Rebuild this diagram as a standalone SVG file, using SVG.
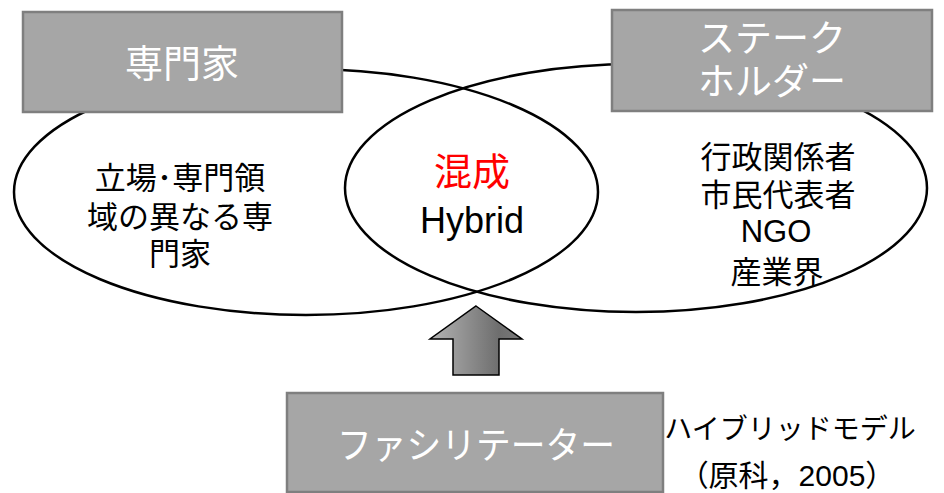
<svg xmlns="http://www.w3.org/2000/svg" width="944" height="493" viewBox="0 0 944 493">
<style>
.ell{fill:none;stroke:#000;stroke-width:2.5}
.box{fill:#a6a6a6;stroke:#7f7f7f;stroke-width:2.5}
.t{font-family:"Liberation Sans","Noto Sans CJK JP",sans-serif;text-anchor:middle}
.w{fill:#fff}
.k{fill:#000}
</style>
<defs>
<linearGradient id="ag" x1="0" y1="0" x2="1" y2="0">
<stop offset="0" stop-color="#b4b4b4"/>
<stop offset="0.75" stop-color="#6e6e6e"/>
<stop offset="1" stop-color="#7a7a7a"/>
</linearGradient>
</defs>
<g id="expert-circle">
<ellipse class="ell" cx="306" cy="192" rx="292" ry="123"/>
<text class="t k" font-size="31" x="180" y="189">立場･専門領</text>
<text class="t k" font-size="31" x="180" y="228">域の異なる専</text>
<text class="t k" font-size="31" x="180" y="265">門家</text>
</g>
<g id="stakeholder-circle">
<ellipse class="ell" cx="636" cy="188" rx="291" ry="124"/>
<text class="t k" font-size="31" x="778" y="168">行政関係者</text>
<text class="t k" font-size="31" x="778" y="206">市民代表者</text>
<text class="t k" font-size="31" x="776" y="242">NGO</text>
<text class="t k" font-size="31" x="777" y="283">産業界</text>
</g>
<g id="hybrid">
<text class="t" font-size="38" fill="#ff0000" x="472" y="185">混成</text>
<text class="t k" font-size="36" x="472" y="233">Hybrid</text>
</g>
<g id="expert">
<rect class="box" x="23" y="12" width="319" height="100"/>
<text class="t w" font-size="38" x="182" y="77">専門家</text>
</g>
<g id="stakeholder">
<rect class="box" x="612" y="10" width="320" height="101"/>
<text class="t w" font-size="37" x="772" y="52">ステーク</text>
<text class="t w" font-size="37" x="772" y="95">ホルダー</text>
</g>
<g id="facilitator">
<rect class="box" x="287" y="393" width="376" height="99"/>
<text class="t w" font-size="37" x="476" y="459" textLength="278" lengthAdjust="spacingAndGlyphs">ファシリテーター</text>
</g>
<g id="caption">
<text class="t k" font-size="28" x="790" y="439">ハイブリッドモデル</text>
<text class="t k" font-size="30" x="787" y="486">（原科，2005）</text>
</g>
<g id="connectors">
<polygon points="476,306 522,339 499,339 499,375 453,375 453,339 430,339" fill="url(#ag)" stroke="#000" stroke-width="1.5"/>
</g>
</svg>
